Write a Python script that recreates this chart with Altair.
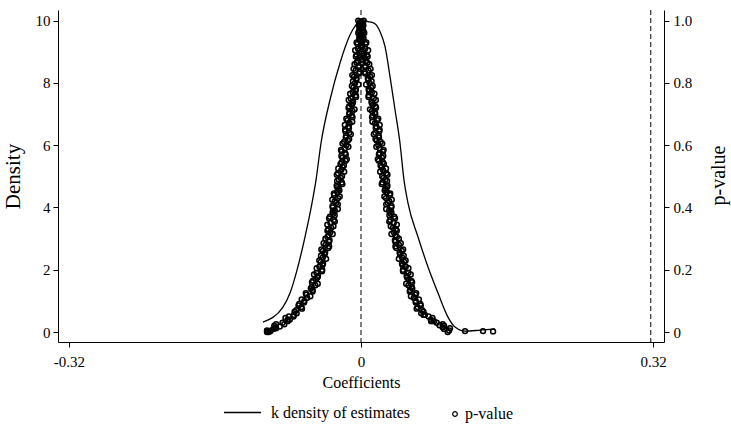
import altair as alt
import pandas as pd

FONT = "Liberation Serif"

# Kernel density of placebo estimates (coefficient, density)
kd_x = [-0.1074, -0.0855, -0.0778, -0.0701, -0.0614, -0.0537, -0.0493, -0.0438, -0.0340, -0.0230,
        -0.0121, -0.0055, 0.0000, 0.0077, 0.0153, 0.0208, 0.0263, 0.0318, 0.0373, 0.0427,
        0.0471, 0.0515, 0.0625, 0.0734, 0.0844, 0.0953, 0.1030, 0.1140, 0.1304, 0.1468]
kd_y = [0.32, 0.80, 1.25, 1.99, 3.05, 4.14, 4.88, 6.07, 7.45, 8.64,
        9.54, 9.86, 10.02, 9.97, 9.90, 9.65, 9.17, 8.20, 7.13, 6.07,
        4.88, 4.14, 3.05, 2.09, 1.25, 0.48, 0.16, 0.03, 0.06, 0.10]

# p-value levels (first group of estimates)
p_levels = [1.00, 0.99, 0.98, 0.97, 0.96, 0.95, 0.94, 0.93, 0.92, 0.91,
            0.90, 0.89, 0.88, 0.87, 0.86, 0.85, 0.84, 0.83, 0.82, 0.81,
            0.80, 0.79, 0.78, 0.77, 0.76, 0.75, 0.74, 0.73, 0.72, 0.71,
            0.70, 0.69, 0.68, 0.67, 0.66, 0.65, 0.64, 0.63, 0.62, 0.61,
            0.60, 0.59, 0.58, 0.57, 0.56, 0.55, 0.54, 0.53, 0.52, 0.51,
            0.50, 0.49, 0.48, 0.47, 0.46, 0.45, 0.44, 0.43, 0.42, 0.41,
            0.40, 0.39, 0.38, 0.37, 0.36, 0.35, 0.34, 0.33, 0.32, 0.31,
            0.30, 0.29, 0.28, 0.27, 0.26, 0.25, 0.24, 0.23, 0.22, 0.21,
            0.20, 0.19, 0.18, 0.17, 0.16, 0.15, 0.14, 0.13, 0.12, 0.11,
            0.10, 0.09, 0.08, 0.07, 0.06, 0.05, 0.04, 0.03, 0.02, 0.01,
            0.00]

# p-value levels (second group of estimates)
p_levels_b = [0.995, 0.985, 0.975, 0.965, 0.955, 0.945, 0.935, 0.925, 0.915, 0.905,
              0.895, 0.885, 0.875, 0.865, 0.855, 0.845, 0.835, 0.825, 0.815, 0.805,
              0.795, 0.785, 0.775, 0.765, 0.755, 0.745, 0.735, 0.725, 0.715, 0.705,
              0.695, 0.685, 0.675, 0.665, 0.655, 0.645, 0.635, 0.625, 0.615, 0.605,
              0.595, 0.585, 0.575, 0.565, 0.555, 0.545, 0.535, 0.525, 0.515, 0.505,
              0.495, 0.485, 0.475, 0.465, 0.455, 0.445, 0.435, 0.425, 0.415, 0.405,
              0.395, 0.385, 0.375, 0.365, 0.355, 0.345, 0.335, 0.325, 0.315, 0.305,
              0.295, 0.285, 0.275, 0.265, 0.255, 0.245, 0.235, 0.225, 0.215, 0.205,
              0.195, 0.185, 0.175, 0.165, 0.155, 0.145, 0.135, 0.125, 0.115, 0.105,
              0.095, 0.085, 0.075, 0.065, 0.055, 0.045, 0.035, 0.025, 0.015, 0.005]

# left (negative) branch, first group
coef_left = [-0.0030, 0.0017, -0.0015, 0.0022, -0.0030, -0.0003, -0.0015, -0.0048, 0.0000, -0.0033,
             0.0005, -0.0049, -0.0023, -0.0037, -0.0071, -0.0025, -0.0059, -0.0023, -0.0077, -0.0051,
             -0.0065, -0.0100, -0.0056, -0.0091, -0.0056, -0.0112, -0.0087, -0.0102, -0.0137, -0.0093,
             -0.0128, -0.0093, -0.0148, -0.0124, -0.0139, -0.0174, -0.0129, -0.0164, -0.0130, -0.0185,
             -0.0160, -0.0176, -0.0212, -0.0167, -0.0203, -0.0169, -0.0225, -0.0201, -0.0216, -0.0252,
             -0.0208, -0.0244, -0.0210, -0.0267, -0.0243, -0.0259, -0.0295, -0.0251, -0.0288, -0.0254,
             -0.0310, -0.0287, -0.0304, -0.0341, -0.0298, -0.0335, -0.0302, -0.0359, -0.0336, -0.0353,
             -0.0390, -0.0350, -0.0389, -0.0359, -0.0418, -0.0398, -0.0417, -0.0457, -0.0416, -0.0456,
             -0.0425, -0.0488, -0.0471, -0.0494, -0.0537, -0.0500, -0.0550, -0.0530, -0.0600, -0.0590,
             -0.0620, -0.0677, -0.0653, -0.0710, -0.0705, -0.0790, -0.0805, -0.0860, -0.0950, -0.0960,
             -0.1030]

# left branch, second group
coef_left_b = [0.0016, -0.0024, -0.0002, -0.0022, 0.0009, -0.0019, -0.0007, -0.0037, 0.0014, -0.0064,
               -0.0017, -0.0056, 0.0005, -0.0049, -0.0023, -0.0082, -0.0016, -0.0095, -0.0049, -0.0088,
               -0.0028, -0.0083, -0.0059, -0.0119, -0.0054, -0.0135, -0.0090, -0.0130, -0.0070, -0.0126,
               -0.0101, -0.0161, -0.0096, -0.0177, -0.0132, -0.0172, -0.0112, -0.0167, -0.0143, -0.0203,
               -0.0138, -0.0219, -0.0175, -0.0215, -0.0156, -0.0212, -0.0188, -0.0249, -0.0184, -0.0265,
               -0.0221, -0.0262, -0.0204, -0.0260, -0.0236, -0.0297, -0.0233, -0.0315, -0.0271, -0.0312,
               -0.0254, -0.0311, -0.0288, -0.0350, -0.0287, -0.0369, -0.0326, -0.0368, -0.0310, -0.0367,
               -0.0345, -0.0410, -0.0349, -0.0434, -0.0393, -0.0438, -0.0382, -0.0442, -0.0421, -0.0486,
               -0.0427, -0.0515, -0.0478, -0.0526, -0.0474, -0.0540, -0.0530, -0.0605, -0.0555, -0.0650,
               -0.0624, -0.0685, -0.0647, -0.0728, -0.0733, -0.0828, -0.0803, -0.0930, -0.0940, -0.1030]

# right (positive) branch, first group
coef_right = [0.0030, -0.0016, 0.0018, -0.0018, 0.0036, 0.0010, 0.0024, 0.0058, 0.0012, 0.0046,
              0.0010, 0.0065, 0.0041, 0.0056, 0.0091, 0.0047, 0.0082, 0.0047, 0.0102, 0.0078,
              0.0093, 0.0128, 0.0084, 0.0119, 0.0084, 0.0140, 0.0115, 0.0130, 0.0165, 0.0121,
              0.0156, 0.0121, 0.0177, 0.0152, 0.0168, 0.0203, 0.0158, 0.0194, 0.0159, 0.0215,
              0.0190, 0.0205, 0.0240, 0.0196, 0.0231, 0.0196, 0.0251, 0.0226, 0.0242, 0.0277,
              0.0232, 0.0268, 0.0234, 0.0290, 0.0266, 0.0282, 0.0318, 0.0274, 0.0310, 0.0276,
              0.0332, 0.0309, 0.0327, 0.0364, 0.0321, 0.0359, 0.0326, 0.0383, 0.0360, 0.0378,
              0.0415, 0.0376, 0.0416, 0.0387, 0.0447, 0.0428, 0.0448, 0.0489, 0.0449, 0.0490,
              0.0460, 0.0520, 0.0500, 0.0520, 0.0560, 0.0520, 0.0562, 0.0534, 0.0596, 0.0578,
              0.0600, 0.0650, 0.0620, 0.0670, 0.0660, 0.0740, 0.0765, 0.0830, 0.0910, 0.0910,
              0.0950]

# right branch, second group
coef_right_b = [-0.0016, 0.0026, 0.0005, 0.0027, -0.0002, 0.0027, 0.0016, 0.0048, -0.0001, 0.0078,
                0.0033, 0.0073, 0.0014, 0.0069, 0.0044, 0.0105, 0.0040, 0.0120, 0.0075, 0.0116,
                0.0056, 0.0111, 0.0087, 0.0147, 0.0082, 0.0163, 0.0118, 0.0158, 0.0098, 0.0154,
                0.0129, 0.0189, 0.0125, 0.0205, 0.0161, 0.0201, 0.0141, 0.0197, 0.0172, 0.0233,
                0.0168, 0.0248, 0.0203, 0.0244, 0.0184, 0.0239, 0.0214, 0.0274, 0.0210, 0.0290,
                0.0245, 0.0286, 0.0227, 0.0283, 0.0259, 0.0320, 0.0256, 0.0337, 0.0293, 0.0334,
                0.0276, 0.0333, 0.0311, 0.0373, 0.0310, 0.0393, 0.0350, 0.0392, 0.0334, 0.0392,
                0.0371, 0.0436, 0.0377, 0.0462, 0.0423, 0.0468, 0.0414, 0.0474, 0.0455, 0.0520,
                0.0460, 0.0545, 0.0505, 0.0550, 0.0495, 0.0556, 0.0538, 0.0605, 0.0547, 0.0634,
                0.0600, 0.0655, 0.0610, 0.0685, 0.0685, 0.0783, 0.0768, 0.0895, 0.0895, 0.0965]

# additional scattered points in the tails
tail_coef = [-0.0990, -0.0930, -0.0890, -0.0840, -0.0780, -0.0740, -0.1000, -0.1015,
             0.0975, 0.0700, 0.0800, 0.0860, 0.1140, 0.1337, 0.1447]
tail_p = [0.004, 0.012, 0.018, 0.025, 0.040, 0.050, 0.002, 0.000,
          0.012, 0.055, 0.035, 0.022, 0.003, 0.003, 0.002]

# reference lines: zero and the true estimate
ref_lines = [0.0, 0.3175]

x_ticks = [-0.32, 0, 0.32]
dens_ticks = [0, 2, 4, 6, 8, 10]
p_ticks = [0, 0.2, 0.4, 0.6, 0.8, 1.0]

KD_NAME = "k density of estimates"
PV_NAME = "p-value"

kd_df = pd.DataFrame({"coef": kd_x, "density": kd_y, "series": KD_NAME})
pv_df = pd.DataFrame({
    "coef": coef_left + coef_left_b + coef_right + coef_right_b + tail_coef,
    "p": p_levels + p_levels_b + p_levels + p_levels_b + tail_p,
    "series": PV_NAME,
})
ref_df = pd.DataFrame({"coef": ref_lines})

xscale = alt.Scale(domain=[-0.332, 0.332], nice=False, zero=False)
xaxis = alt.Axis(
    values=x_ticks, title="Coefficients",
    labelExpr="datum.value == 0 ? '0' : replace(format(datum.value, '.2f'), '\u2212', '-')",
    tickSize=5, labelFontSize=15, titleFontSize=16, labelPadding=7,
    titleX=303, titleY=40, titleBaseline="middle", titleAlign="center",
)

rules = alt.Chart(ref_df).mark_rule(color="black", strokeDash=[5, 3], strokeWidth=1).encode(
    x=alt.X("coef:Q", scale=xscale, axis=xaxis)
)

line = alt.Chart(kd_df).mark_line(color="black", strokeWidth=1.3, interpolate="monotone").encode(
    x=alt.X("coef:Q", scale=xscale, axis=xaxis),
    y=alt.Y("density:Q",
            scale=alt.Scale(domain=[-0.32, 10.34], nice=False, zero=False),
            axis=alt.Axis(orient="left", values=dens_ticks, title="Density",
                          tickSize=5, labelFontSize=15, labelPadding=3,
                          titleFontSize=21, titleAngle=270, titleX=-45, titleY=166,
                          titleAlign="center", titleBaseline="middle")),
    color=alt.Color("series:N",
                    scale=alt.Scale(domain=[KD_NAME], range=["black"]),
                    legend=alt.Legend(orient="none", legendX=165, legendY=383, title=None,
                                      symbolType="stroke", symbolSize=1369,
                                      symbolStrokeWidth=1.3, symbolStrokeColor="black",
                                      labelFont=FONT, labelFontSize=16, labelColor="black",
                                      labelOffset=9, padding=0)),
)

points = alt.Chart(pv_df).mark_point(filled=False, color="black", size=24, strokeWidth=1.5, opacity=1).encode(
    x=alt.X("coef:Q", scale=xscale, axis=xaxis),
    y=alt.Y("p:Q",
            scale=alt.Scale(domain=[-0.032, 1.034], nice=False, zero=False),
            axis=alt.Axis(orient="right", values=p_ticks, title="p-value",
                          labelExpr="datum.value == 0 ? '0' : format(datum.value, '.1f')",
                          tickSize=5, labelFontSize=15, labelPadding=4,
                          titleFontSize=20, titleAngle=270, titleX=54, titleY=165,
                          titleAlign="center", titleBaseline="middle")),
    shape=alt.Shape("series:N",
                    scale=alt.Scale(domain=[PV_NAME], range=["circle"]),
                    legend=alt.Legend(orient="none", legendX=389, legendY=396, title=None,
                                      symbolSize=22, symbolStrokeColor="black",
                                      symbolFillColor="white", symbolStrokeWidth=1.2,
                                      labelFont=FONT, labelFontSize=16, labelColor="black",
                                      labelOffset=2, padding=0)),
)

chart = alt.layer(rules, line, points).resolve_scale(
    y="independent", color="independent", shape="independent"
).properties(
    width=606, height=332,
    autosize=alt.AutoSizeParams(type="none"),
    padding={"left": 58, "top": 10, "right": 67, "bottom": 87},
    background="white",
).configure_view(stroke=None).configure_axis(
    grid=False, domainColor="black", tickColor="black", labelColor="black",
    titleColor="black", labelFont=FONT, titleFont=FONT, titleFontWeight="normal",
    domainWidth=1, tickWidth=1,
).configure_legend(labelFont=FONT)

chart.save("out.html", embed_options={"renderer": "svg", "actions": False})
